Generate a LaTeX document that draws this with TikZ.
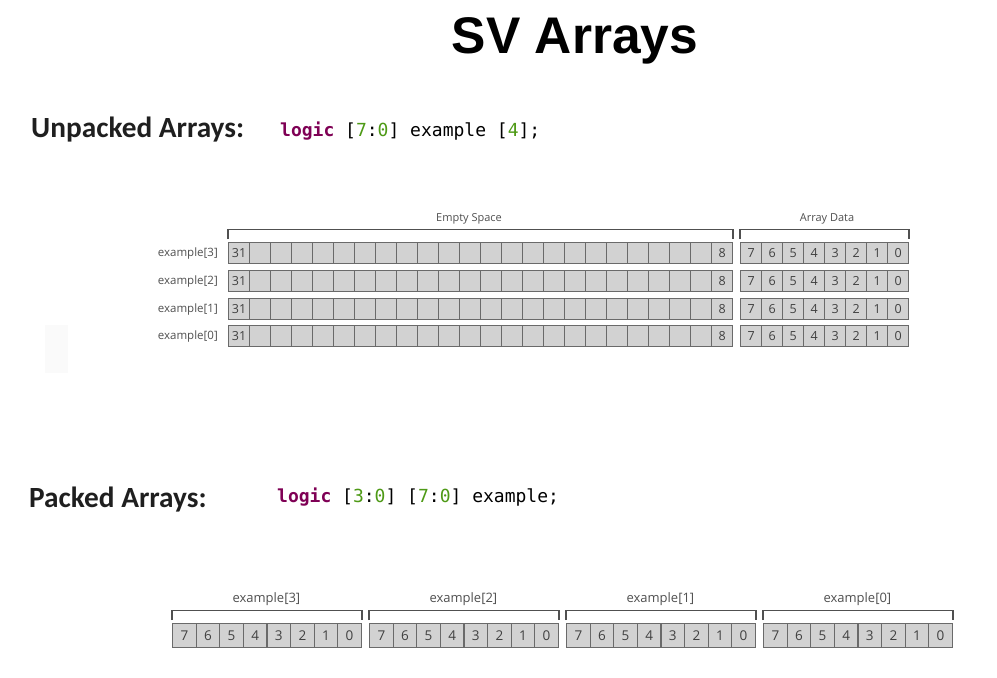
\documentclass[tikz,border=0pt]{standalone}
\usepackage{fontspec}
\setmainfont{Open Sans}
\newfontfamily\titlefont{Liberation Sans}
\newfontfamily\headfont{Carlito}
\newfontfamily\codefont{DejaVu Sans Mono}
\definecolor{cellfill}{HTML}{D2D2D2}
\definecolor{celledge}{HTML}{6A6A6A}
\definecolor{digit}{HTML}{404040}
\definecolor{lbl}{HTML}{505050}
\definecolor{kw}{HTML}{7F0055}
\definecolor{num}{HTML}{4E9A16}
\newcommand{\kwd}[1]{\textcolor{kw}{\bfseries #1}}
\newcommand{\nm}[1]{\textcolor{num}{#1}}
\tikzset{
  cell/.style={draw=celledge, fill=cellfill, line width=1.2pt, inner sep=0pt,
    anchor=north west, text=digit, font=\fontsize{12.5}{12.5}\selectfont},
  ucell/.style={cell, minimum width=21pt, minimum height=21pt},
  pcell/.style={cell, minimum width=23.6pt, minimum height=24pt, font=\fontsize{13.5}{13.5}\selectfont},
  bracket/.style={draw=lbl, line width=1.5pt},
  rowlabel/.style={anchor=east, text=lbl, inner sep=0pt, font=\fontsize{11.5}{12}\selectfont},
  grouplabel/.style={text=lbl, inner sep=0pt, font=\fontsize{11}{12}\selectfont},
  plabel/.style={text=lbl, inner sep=0pt, font=\fontsize{13}{14}\selectfont},
  heading/.style={anchor=base west, inner sep=0pt, font=\headfont\bfseries\fontsize{29.3}{30}\selectfont, text=black!88},
  code/.style={anchor=base west, inner sep=0pt, font=\codefont\fontsize{18}{20}\selectfont}
}
\begin{document}
\begin{tikzpicture}[x=1pt, y=-1pt]
  \useasboundingbox[fill=white] (0,0) rectangle (997,678);

  % title and headings
  \node[anchor=base, inner sep=0pt, font=\titlefont\bfseries\fontsize{51.5}{52}\selectfont] (title) at (575,53) {SV Arrays};
  \node[heading] (uhead) at (31,137) {Unpacked Arrays:};
  \node[code] (ucode) at (280,136) {\kwd{logic} [\nm{7}:\nm{0}] example [\nm{4}];};
  \node[heading] (phead) at (29,507) {Packed Arrays:};
  \node[code] (pcode) at (277,502) {\kwd{logic} [\nm{3}:\nm{0}] [\nm{7}:\nm{0}] example;};

  % faint panel at the left margin
  \node[fill=black!2, draw=none, minimum width=23pt, minimum height=48pt, anchor=north west, inner sep=0pt] (panel) at (45,325) {};

  % unpacked rows: 24 unused bits and 8 data bits per element
  \foreach \r/\y in {3/242, 2/270, 1/297.5, 0/325} {
    \node[rowlabel] (lab\r) at (218,\y+12) {example[\r]};
    \foreach \i in {0,...,23} {
      \pgfmathtruncatemacro{\b}{31-\i}
      \ifnum\b=31 \def\t{31}\else\ifnum\b=8 \def\t{8}\else\def\t{}\fi\fi
      \node[ucell] (u\r b\b) at (228+21*\i,\y) {\t};
    }
    \foreach \i in {0,...,7} {
      \pgfmathtruncatemacro{\b}{7-\i}
      \node[ucell] (u\r b\b) at (740+21*\i,\y) {\b};
    }
  }
  \draw[bracket] ([yshift=3pt]u3b31.north west) -- ([yshift=12.5pt]u3b31.north west) -- ([yshift=12.5pt]u3b8.north east) -- ([yshift=3pt]u3b8.north east);
  \draw[bracket] ([yshift=3pt]u3b7.north west) -- ([yshift=12.5pt]u3b7.north west) -- ([yshift=12.5pt]u3b0.north east) -- ([yshift=3pt]u3b0.north east);
  \node[grouplabel] (empty) at (469,219) {Empty Space};
  \node[grouplabel] (data) at (827,219) {Array Data};

  % packed elements laid side by side
  \foreach \r/\x in {3/172, 2/369, 1/566, 0/763} {
    \foreach \i in {0,...,7} {
      \pgfmathtruncatemacro{\b}{7-\i}
      \node[pcell] (p\r b\b) at (\x+23.6*\i,623) {\b};
    }
    \draw[bracket] ([yshift=3pt]p\r b7.north west) -- ([yshift=12.5pt]p\r b7.north west) -- ([yshift=12.5pt]p\r b0.north east) -- ([yshift=3pt]p\r b0.north east);
    \node[plabel] (pl\r) at (\x+94.4,599.5) {example[\r]};
  }
\end{tikzpicture}
\end{document}
